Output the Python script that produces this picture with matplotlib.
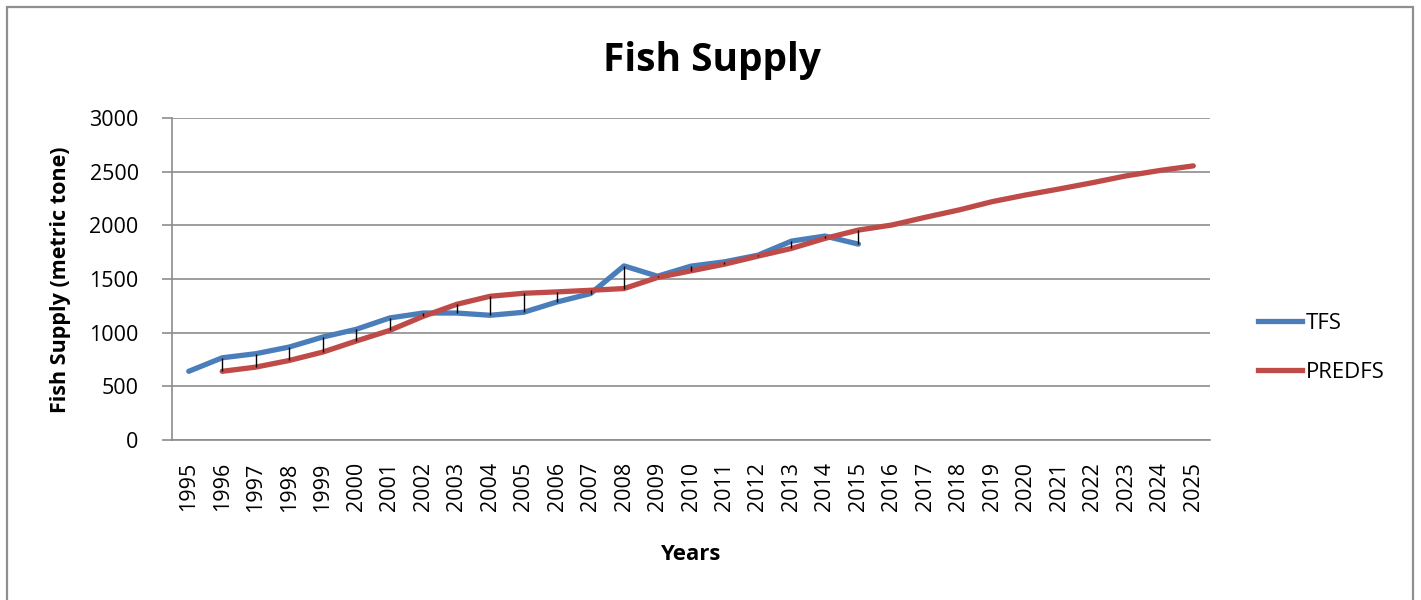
import matplotlib
matplotlib.use("Agg")
import matplotlib.pyplot as plt
from matplotlib.patches import Rectangle
from matplotlib.lines import Line2D
import numpy as np

years = [str(y) for y in range(1995, 2026)]

# Observed total fish supply (1995-2015)
tfs = [640, 766, 804, 866, 959, 1031, 1137, 1183, 1183, 1162, 1190,
       1286, 1364, 1622, 1526, 1620, 1660, 1722, 1853, 1900, 1825]

# Predicted fish supply (1996-2025)
predfs = [640, 679, 741, 819, 922, 1021, 1152, 1264, 1339, 1367,
          1380, 1395, 1411, 1514, 1576, 1638, 1713, 1785, 1878, 1956,
          2003, 2075, 2143, 2221, 2283, 2339, 2398, 2461, 2511, 2554]

y_ticks = [0, 500, 1000, 1500, 2000, 2500, 3000]

BLUE = "#4A7EBB"
RED = "#BE4B48"
GRID = "#8C8C8C"
FONT = "Open Sans"
TICK_FS = 15.5

W, H = 1421, 600
fig = plt.figure(figsize=(W / 100, H / 100), dpi=100)
fig.patch.set_facecolor("white")

# chart-area frame
fig.add_artist(Rectangle((7 / W, -0.05), (1413 - 7) / W, 1.05 - 7 / H,
                         transform=fig.transFigure, fill=False,
                         edgecolor="#8F8F8F", linewidth=1.6))

ax = fig.add_axes([172 / W, (H - 440) / H, (1210 - 172) / W, (440 - 118) / H])

x_tfs = np.arange(len(tfs))
x_pred = np.arange(1, 1 + len(predfs))

ax.plot(x_tfs, tfs, color=BLUE, lw=3.8, solid_capstyle="round",
        solid_joinstyle="round", zorder=3)
ax.plot(x_pred, predfs, color=RED, lw=3.8, solid_capstyle="round",
        solid_joinstyle="round", zorder=3)

# high-low lines where both series exist
for i in range(1, len(tfs)):
    a = tfs[i]
    b = predfs[i - 1]
    ax.vlines(i, min(a, b), max(a, b), color="black", lw=1.0, zorder=4)

ax.set_xlim(-0.5, len(years) - 0.5)
ax.set_ylim(0, 3000)
ax.set_yticks(y_ticks)
ax.set_yticklabels([str(v) for v in y_ticks], fontsize=TICK_FS, family=FONT)
ax.set_xticks(range(len(years)))
ax.set_xticklabels(years, rotation=90, fontsize=TICK_FS, family=FONT)
ax.tick_params(axis="x", length=0, pad=16)
ax.tick_params(axis="y", length=7, color=GRID, width=1.2, pad=17)
ax.grid(axis="y", color=GRID, lw=1.2)
ax.set_axisbelow(True)
for s in ["top", "right"]:
    ax.spines[s].set_visible(False)
for s in ["left", "bottom"]:
    ax.spines[s].set_color(GRID)
    ax.spines[s].set_linewidth(1.2)

fig.text(712 / W, 1 - 60 / H, "Fish Supply", ha="center", va="center",
         fontsize=28, fontweight="bold", family=FONT)
fig.text(690 / W, 1 - 555 / H, "Years", ha="center", va="center",
         fontsize=16, fontweight="bold", family=FONT)
fig.text(61 / W, 1 - 280 / H, "Fish Supply (metric tone)", ha="center",
         va="center", rotation=90, fontsize=15.5, fontweight="bold", family=FONT)

handles = [Line2D([], [], color=BLUE, lw=3.8), Line2D([], [], color=RED, lw=3.8)]
fig.legend(handles, ["TFS", "PREDFS"], loc="center left",
           bbox_to_anchor=(1238 / W, 1 - 348 / H), frameon=False,
           prop={"family": FONT, "size": 16}, handlelength=2.0,
           handletextpad=0.15, labelspacing=1.25)

fig.savefig("out.png", dpi=100)
